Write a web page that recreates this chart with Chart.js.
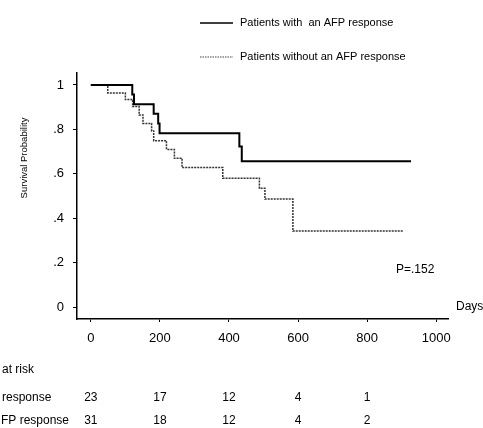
<!DOCTYPE html>
<html>
<head>
<meta charset="utf-8">
<script src="https://cdn.jsdelivr.net/npm/chart.js@4"></script>
<style>
  html, body { margin: 0; padding: 0; background: #fff; }
  #kmChart { display: block; }
</style>
</head>
<body>
<canvas id="kmChart" width="483" height="428"></canvas>
<script>
// Kaplan-Meier curves (days, survival probability)
const daysWith = [0, 120, 125, 182, 195, 199, 430, 437, 927];
const survWith = [1, 0.957, 0.913, 0.870, 0.826, 0.783, 0.723, 0.657, 0.657];

const daysWithout = [0, 49, 100, 121, 140, 151, 176, 182, 219, 242, 264, 382, 488, 504, 585, 905];
const survWithout = [1, 0.964, 0.935, 0.903, 0.865, 0.827, 0.793, 0.749, 0.71, 0.67, 0.628, 0.58, 0.535, 0.486, 0.342, 0.342];

// tick labels
const xTicks = [0, 200, 400, 600, 800, 1000];
const xTickLabels = ['0', '200', '400', '600', '800', '1000'];
const yTicks = [0, 0.2, 0.4, 0.6, 0.8, 1];
const yTickLabels = ['0', '.2', '.4', '.6', '.8', '1'];

// number at risk table
const riskDays = [0, 200, 400, 600, 800];
const riskWith = [23, 17, 12, 4, 1];
const riskWithout = [31, 18, 12, 4, 2];

const seriesNames = ['Patients with  an AFP response', 'Patients without an AFP response'];
const FONT = '"Liberation Sans", Arial, sans-serif';

document.addEventListener("DOMContentLoaded", function () {
    const ctx = document.getElementById("kmChart").getContext("2d");

    const toPoints = (xs, ys) => xs.map((x, i) => ({ x: x, y: ys[i] }));

    // extra text: legend, y title, p value, risk table
    const annotations = {
        id: 'annotations',
        afterDraw(chart) {
            const c = chart.ctx;
            const xs = chart.scales.x;
            const ys = chart.scales.y;
            c.save();
            c.fillStyle = '#000';
            c.textBaseline = 'middle';

            // legend
            c.font = '11px ' + FONT;
            c.strokeStyle = '#000';
            c.lineWidth = 1.5;
            c.beginPath(); c.moveTo(200, 23); c.lineTo(233, 23); c.stroke();
            c.fillText(seriesNames[0], 240, 23);
            c.strokeStyle = '#444';
            c.lineWidth = 1.2;
            c.setLineDash([1.5, 1]);
            c.beginPath(); c.moveTo(200, 57); c.lineTo(233, 57); c.stroke();
            c.setLineDash([]);
            c.fillText(seriesNames[1], 240, 57);

            // y title
            c.save();
            c.translate(24, 158);
            c.rotate(-Math.PI / 2);
            c.textAlign = 'center';
            c.font = '9.5px ' + FONT;
            c.fillText('Survival Probability', 0, 0);
            c.restore();

            // p value and Days
            c.font = '12px ' + FONT;
            c.fillText('P=.152', 396, 270);
            c.fillText('Days', 456, ys.getPixelForValue(0));

            // at risk table
            c.font = '12px ' + FONT;
            c.fillText('at risk', 2, 370);
            c.fillText('response', 2, 398);
            c.fillText('FP response', 1, 421);
            c.textAlign = 'center';
            riskDays.forEach((d, i) => {
                const px = xs.getPixelForValue(d);
                c.fillText(String(riskWith[i]), px, 398);
                c.fillText(String(riskWithout[i]), px, 421);
            });
            c.restore();
        }
    };

    new Chart(ctx, {
        type: 'line',
        data: {
            datasets: [
                {
                    label: seriesNames[0],
                    data: toPoints(daysWith, survWith),
                    borderColor: '#000',
                    borderWidth: 2,
                    stepped: true,
                    pointRadius: 0,
                    fill: false
                },
                {
                    label: seriesNames[1],
                    data: toPoints(daysWithout, survWithout),
                    borderColor: '#333',
                    borderWidth: 1.5,
                    borderDash: [2, 1],
                    stepped: true,
                    pointRadius: 0,
                    fill: false
                }
            ]
        },
        options: {
            responsive: false,
            animation: false,
            layout: { padding: { top: 73, right: 35, left: 0, bottom: 0 } },
            plugins: {
                legend: { display: false },
                tooltip: { enabled: false }
            },
            scales: {
                x: {
                    type: 'linear',
                    min: -40,
                    max: 1034,
                    afterBuildTicks: s => { s.ticks = xTicks.map(v => ({ value: v })); },
                    afterFit: s => { s.height = 109; },
                    border: { display: true, color: '#000', width: 1.5 },
                    grid: { drawOnChartArea: false, color: '#000', tickLength: 3, lineWidth: 1 },
                    ticks: {
                        color: '#000',
                        font: { family: FONT, size: 13 },
                        padding: 9,
                        maxRotation: 0,
                        callback: v => xTickLabels[xTicks.indexOf(v)]
                    }
                },
                y: {
                    type: 'linear',
                    min: -0.054,
                    max: 1.054,
                    afterBuildTicks: s => { s.ticks = yTicks.map(v => ({ value: v })); },
                    afterFit: s => { s.width = 77; },
                    border: { display: true, color: '#000', width: 1.5 },
                    grid: { drawOnChartArea: false, color: '#000', tickLength: 4, lineWidth: 1 },
                    ticks: {
                        color: '#000',
                        font: { family: FONT, size: 13 },
                        padding: 9,
                        callback: v => yTickLabels[yTicks.indexOf(v)]
                    }
                }
            }
        },
        plugins: [annotations]
    });
});
</script>
</body>
</html>
